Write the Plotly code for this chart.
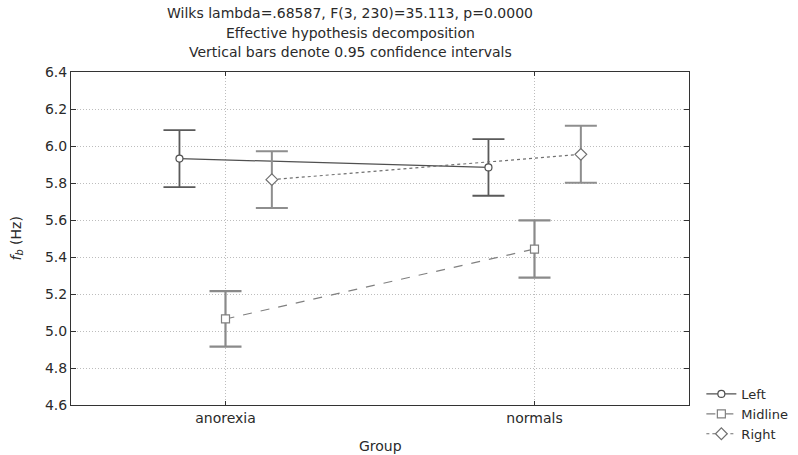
import plotly.graph_objects as go

# Group means of f_b (Hz) with 0.95 confidence half-widths
groups = ["anorexia", "normals"]
left_mean = [5.932, 5.884]
left_ci = [0.154, 0.153]
midline_mean = [5.065, 5.443]
midline_ci = [0.150, 0.155]
right_mean = [5.818, 5.955]
right_ci = [0.153, 0.154]

y_ticks = [4.6, 4.8, 5.0, 5.2, 5.4, 5.6, 5.8, 6.0, 6.2, 6.4]

FONT = "DejaVu Sans, Verdana, sans-serif"
FSIZE = 14
TEXT = "#2a2a2a"

series = [
    # name, means, ci, offset, line colour, dash, marker symbol, marker size, bar colour, bar width
    ("Left", left_mean, left_ci, -0.149, "#505050", "solid", "circle", 7, "#5a5a5a", 1.8),
    ("Midline", midline_mean, midline_ci, 0.0, "#808080", "dash", "square", 8, "#8a8a8a", 2.2),
    ("Right", right_mean, right_ci, 0.150, "#707070", "dot", "diamond", 9, "#8e8e8e", 2.0),
]

fig = go.Figure()
for name, means, ci, off, lc, dash, sym, msize, bc, bw in series:
    xs = [i + off for i in range(len(groups))]
    fig.add_trace(go.Scatter(
        x=xs, y=means, name=name, mode="lines+markers",
        line=dict(color=lc, width=1.2, dash=dash),
        marker=dict(symbol=sym, size=msize, color="white",
                    line=dict(color=lc, width=1.2)),
        error_y=dict(type="data", array=ci, visible=True,
                     color=bc, thickness=bw, width=16),
    ))

grid = dict(showgrid=True, gridcolor="#bdbdbd", gridwidth=1, griddash="1px,2px")
tickfont = dict(family=FONT, size=FSIZE, color=TEXT)

fig.update_xaxes(
    range=[-0.5, 1.5], tickmode="array", tickvals=list(range(len(groups))),
    ticktext=groups, ticks="inside", ticklen=4, tickcolor="#333",
    showline=True, linecolor="#333", linewidth=1, mirror="ticks",
    zeroline=False, tickfont=tickfont, **grid,
)
fig.update_yaxes(
    range=[4.6, 6.4], tickmode="array", tickvals=y_ticks,
    ticktext=[f"{v:.1f}" for v in y_ticks],
    ticks="inside", ticklen=5, tickcolor="#333",
    showline=True, linecolor="#333", linewidth=1, mirror="ticks",
    zeroline=False, tickfont=tickfont, **grid,
)

title_lines = [
    ("Wilks lambda=.68587, F(3, 230)=35.113, p=0.0000", 1.177),
    ("Effective hypothesis decomposition", 1.118),
    ("Vertical bars denote 0.95 confidence intervals", 1.060),
]
annotations = [
    dict(text=t, x=(350 - 71) / 618, y=yy, xref="paper", yref="paper",
         xanchor="center", yanchor="middle", showarrow=False, font=tickfont)
    for t, yy in title_lines
]
annotations.append(dict(
    text="<i>f</i><sub><i>b</i></sub> (Hz)", x=(16 - 71) / 618, y=0.5,
    xref="paper", yref="paper", xanchor="center", yanchor="middle",
    textangle=-90, showarrow=False, font=tickfont))
annotations.append(dict(
    text="Group", x=0.5, y=(405 - 446) / 333, xref="paper", yref="paper",
    xanchor="center", yanchor="middle", showarrow=False, font=tickfont))

fig.update_layout(
    width=798, height=455,
    margin=dict(l=71, r=109, t=72, b=50, autoexpand=False),
    paper_bgcolor="white", plot_bgcolor="white",
    showlegend=True,
    legend=dict(x=1.02, y=(405 - 379) / 333, xanchor="left", yanchor="top",
                font=dict(family=FONT, size=13, color=TEXT),
                bgcolor="rgba(0,0,0,0)", itemwidth=30, tracegroupgap=0),
    annotations=annotations,
)

fig.write_html("out.html")
